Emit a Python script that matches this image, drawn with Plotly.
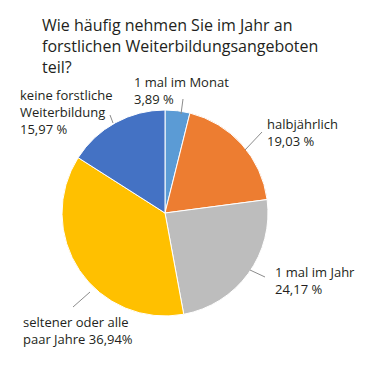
import plotly.graph_objects as go

# Page body has an 8px margin; figure is sized to fit inside the window
OFF = 8
W, H = 378 - 2 * OFF, 365 - 2 * OFF

categories = ["1 mal im Monat", "halbjährlich", "1 mal im Jahr",
              "seltener oder alle paar Jahre", "keine forstliche Weiterbildung"]
values = [3.89, 19.03, 24.17, 36.94, 15.97]
label_lines = [["1 mal im Monat", "3,89 %"],
               ["halbjährlich", "19,03 %"],
               ["1 mal im Jahr", "24,17 %"],
               ["seltener oder alle", "paar Jahre 36,94%"],
               ["keine forstliche", "Weiterbildung", "15,97 %"]]
colors = ["#5B9BD5", "#ED7D31", "#BDBDBD", "#FFC000", "#4472C4"]

title_lines = ["Wie häufig nehmen Sie im Jahr an",
               "forstlichen Weiterbildungsangeboten",
               "teil?"]

# layout positions in window pixels (x = left, y = block centre)
cx, cy, r = 165, 213, 103
title_pos = (40, 45.5)
label_pos = [(132, 90.5), (265, 132.5), (273, 280.5), (21, 330.5), (18, 112)]
leaders = [((181, 114), (183, 99)), ((245, 150), (262, 132)),
           ((250, 270), (265, 277)), ((90, 292), (73, 307)),
           ((113, 123), (110, 115))]


def px(x):
    return (x - OFF) / W


def py(y):
    return 1 - (y - OFF) / H


FONT = "Open Sans"
TXT = "#231F20"

fig = go.Figure(go.Pie(
    labels=categories, values=values, sort=False, direction="clockwise",
    rotation=0, textinfo="none", hoverinfo="label+percent",
    marker=dict(colors=colors, line=dict(color="white", width=1)),
    domain=dict(x=[px(cx - r), px(cx + r)], y=[py(cy + r), py(cy - r)]),
    showlegend=False,
))

annotations = [dict(x=px(title_pos[0]), y=py(title_pos[1]), xref="paper", yref="paper",
                    xanchor="left", yanchor="middle", align="left",
                    text="<br>".join(title_lines), showarrow=False,
                    font=dict(family=FONT, size=16, color=TXT))]
for lines, (x, y) in zip(label_lines, label_pos):
    annotations.append(dict(x=px(x), y=py(y), xref="paper", yref="paper",
                            xanchor="left", yanchor="middle", align="left",
                            text="<br>".join(lines), showarrow=False,
                            font=dict(family=FONT, size=13, color=TXT)))

shapes = [dict(type="line", xref="paper", yref="paper",
               x0=px(a[0]), y0=py(a[1]), x1=px(b[0]), y1=py(b[1]),
               line=dict(color="#8C8C8C", width=1)) for a, b in leaders]

fig.update_layout(width=W, height=H, margin=dict(l=0, r=0, t=0, b=0),
                  paper_bgcolor="white", plot_bgcolor="white",
                  annotations=annotations, shapes=shapes)

fig.write_html("out.html")
